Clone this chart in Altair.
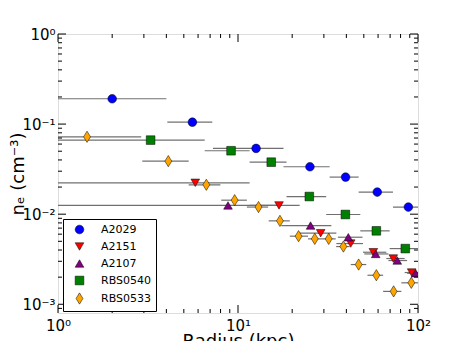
import altair as alt
import pandas as pd

series_names = ["A2029", "A2151", "A2107", "RBS0540", "RBS0533"]
series_colors = ["#0000ff", "#ff0000", "#800080", "#008000", "#ffa500"]
diamond = "M0,-1.3L0.8,0L0,1.3L-0.8,0Z"
series_shapes = ["circle", "triangle-down", "triangle-up", "square", diamond]

a2029_r = [2.0, 5.58, 12.6, 25.1, 39.6, 59.4, 88.4]
a2029_ne = [0.191, 0.105, 0.0537, 0.0336, 0.0258, 0.0176, 0.0120]
a2029_rlo = [1.0, 4.05, 7.26, 17.9, 32.3, 46.8, 72.6]
a2029_rhi = [4.0, 7.2, 17.9, 32.3, 46.8, 72.6, 108]

a2151_r = [5.79, 16.9, 28.8, 42.3, 56.5, 72.9, 92.2]
a2151_ne = [0.0223, 0.0125, 0.00615, 0.00472, 0.00378, 0.00322, 0.00225]
a2151_rlo = [1.0, 11.6, 22.0, 35.2, 49.5, 66.7, 84.3]
a2151_rhi = [11.6, 22.0, 35.2, 49.5, 66.7, 84.3, 105]

a2107_r = [8.8, 25.3, 41.0, 58.2, 76.7, 97.1]
a2107_ne = [0.0125, 0.00748, 0.00555, 0.00362, 0.00306, 0.00221]
a2107_rlo = [1.0, 17.4, 35.9, 50.3, 68.5, 87.0]
a2107_rhi = [17.4, 33.0, 49.2, 68.5, 87.0, 108]

rbs0540_r = [3.27, 9.15, 15.3, 24.9, 39.5, 58.7, 85.0]
rbs0540_ne = [0.0664, 0.0506, 0.0378, 0.0157, 0.00992, 0.00653, 0.00415]
rbs0540_rlo = [1.0, 6.53, 11.6, 18.6, 30.9, 47.8, 69.6]
rbs0540_rhi = [6.53, 11.6, 18.6, 30.9, 47.8, 69.6, 100]

rbs0533_r = [1.45, 4.10, 6.67, 9.58, 13.0, 17.1, 21.7, 26.7, 31.9, 38.5, 46.8, 58.7, 73.2, 91.8]
rbs0533_ne = [0.0723, 0.0388, 0.0212, 0.0143, 0.0120, 0.00843, 0.00570, 0.00532,
              0.00532, 0.00437, 0.00276, 0.00210, 0.00139, 0.00173]
rbs0533_rlo = [1.0, 2.94, 5.32, 8.07, 11.2, 14.8, 19.4, 24.5, 29.0, 35.1, 42.3, 52.4, 64.0, 80.8]
rbs0533_rhi = [2.90, 5.32, 7.98, 11.2, 14.7, 19.4, 24.5, 29.0, 34.9, 41.7, 51.6, 64.0, 80.8, 105]

x_major = [1, 10, 100]
x_minor = [2, 3, 4, 5, 6, 7, 8, 9, 20, 30, 40, 50, 60, 70, 80, 90]
y_major = [0.001, 0.01, 0.1, 1]
y_minor = [0.0009, 0.002, 0.003, 0.004, 0.005, 0.006, 0.007, 0.008, 0.009,
           0.02, 0.03, 0.04, 0.05, 0.06, 0.07, 0.08, 0.09,
           0.2, 0.3, 0.4, 0.5, 0.6, 0.7, 0.8, 0.9]

W, H = 360, 279
MAJ, MIN = 8, 4

rows = []
for name, r, ne, lo, hi in [
    ("A2029", a2029_r, a2029_ne, a2029_rlo, a2029_rhi),
    ("A2151", a2151_r, a2151_ne, a2151_rlo, a2151_rhi),
    ("A2107", a2107_r, a2107_ne, a2107_rlo, a2107_rhi),
    ("RBS0540", rbs0540_r, rbs0540_ne, rbs0540_rlo, rbs0540_rhi),
    ("RBS0533", rbs0533_r, rbs0533_ne, rbs0533_rlo, rbs0533_rhi),
]:
    for i in range(len(r)):
        rows.append({"series": name, "r": r[i], "ne": ne[i], "rlo": lo[i], "rhi": hi[i]})
df = pd.DataFrame(rows)

xscale = alt.Scale(type="log", domain=[1, 100], nice=False)
yscale = alt.Scale(type="log", domain=[0.00080, 1], nice=False)

sup_expr = "['10⁻³','10⁻²','10⁻¹','10⁰','10¹','10²'][round(log(datum.value)/LN10)+3]"

xaxis = alt.Axis(values=x_major, labelExpr=sup_expr, ticks=False, domain=False, grid=False,
                 labelFontSize=15, labelPadding=5, labelColor="black",
                 title="Radius (kpc)", titleFontSize=18, titleFontWeight="normal",
                 titleColor="black", titleX=W / 2, titleY=33, titleAlign="center",
                 titleBaseline="alphabetic", labelFlush=False)
yaxis = alt.Axis(values=y_major, labelExpr=sup_expr, ticks=False, domain=False, grid=False,
                 labelFontSize=15, labelPadding=3, labelColor="black",
                 title="nₑ (cm⁻³)", titleFontSize=18, titleFontWeight="normal",
                 titleColor="black", titleX=-40, titleY=H / 2, titleAngle=270,
                 titleAlign="center", titleBaseline="middle", labelFlush=False)

errbars = alt.Chart(df).mark_rule(color="#707070", strokeWidth=1.2, clip=True).encode(
    x=alt.X("rlo:Q", scale=xscale, axis=xaxis),
    x2="rhi:Q",
    y=alt.Y("ne:Q", scale=yscale, axis=yaxis),
)

legend = alt.Legend(orient="none", legendX=5, legendY=185,
                    strokeColor="black", fillColor="white", padding=5,
                    labelFontSize=11, labelColor="black", symbolSize=75,
                    symbolStrokeWidth=0.5, symbolStrokeColor="black",
                    symbolOffset=6, rowPadding=5, labelOffset=16, cornerRadius=0, offset=0)

points = alt.Chart(df).mark_point(filled=True, opacity=1, stroke="black", size=75,
                                  strokeWidth=0.5, clip=True).encode(
    x=alt.X("r:Q", scale=xscale),
    y=alt.Y("ne:Q", scale=yscale),
    color=alt.Color("series:N", scale=alt.Scale(domain=series_names, range=series_colors),
                    title=None, legend=legend),
    shape=alt.Shape("series:N", scale=alt.Scale(domain=series_names, range=series_shapes),
                    title=None),
)

xmaj = pd.DataFrame({"v": x_major})
xmin = pd.DataFrame({"v": x_minor})
ymaj = pd.DataFrame({"v": y_major})
ymin = pd.DataFrame({"v": y_minor})

def xticks(d, L):
    top = alt.Chart(d).mark_rule(color="black", strokeWidth=1).encode(
        x=alt.X("v:Q", scale=xscale), y=alt.value(0), y2=alt.value(L))
    bot = alt.Chart(d).mark_rule(color="black", strokeWidth=1).encode(
        x=alt.X("v:Q", scale=xscale), y=alt.value(H), y2=alt.value(H - L))
    return [top, bot]

def yticks(d, L):
    left = alt.Chart(d).mark_rule(color="black", strokeWidth=1).encode(
        y=alt.Y("v:Q", scale=yscale), x=alt.value(0), x2=alt.value(L))
    right = alt.Chart(d).mark_rule(color="black", strokeWidth=1).encode(
        y=alt.Y("v:Q", scale=yscale), x=alt.value(W), x2=alt.value(W - L))
    return [left, right]

tick_layers = xticks(xmaj, MAJ) + xticks(xmin, MIN) + yticks(ymaj, MAJ) + yticks(ymin, MIN)

chart = alt.layer(errbars, points, *tick_layers).properties(
    width=W, height=H,
    autosize=alt.AutoSizeParams(type="none"),
    padding={"left": 50, "top": 26, "right": 39, "bottom": 28},
    background="white",
).configure_view(
    stroke="black", strokeWidth=1
).configure(
    font="DejaVu Sans"
)

chart.save("out.html", embed_options={"renderer": "svg", "actions": False})
